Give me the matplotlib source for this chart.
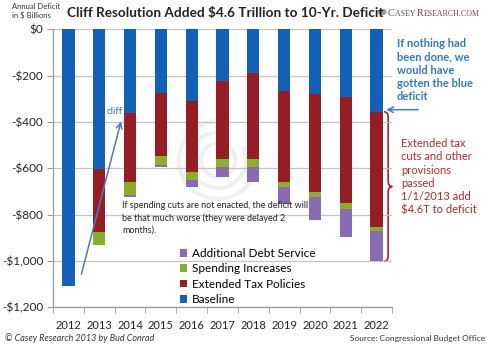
import numpy as np
import matplotlib
matplotlib.use("Agg")
import matplotlib.pyplot as plt
from matplotlib.path import Path
from matplotlib.patches import PathPatch, Circle, Arc
from matplotlib.transforms import IdentityTransform

plt.rcParams['font.family'] = ['Lato', 'DejaVu Sans']

# deficit components, $ billions (shown as negative)
years = ['2012', '2013', '2014', '2015', '2016', '2017', '2018', '2019', '2020', '2021', '2022']
baseline = [1107, 601, 361, 275, 308, 222, 189, 265, 278, 291, 356]
tax_policies = [0, 276, 297, 273, 307, 336, 369, 395, 426, 459, 497]
spending = [0, 52, 58, 36, 36, 37, 37, 21, 20, 24, 19]
debt_service = [0, 0, 8, 11, 30, 42, 66, 75, 101, 121, 130]

yticks = [0, -200, -400, -600, -800, -1000, -1200]
ytick_labels = ['$0', '-$200', '-$400', '-$600', '-$800', '-$1,000', '-$1,200']

c_blue = '#1161b9'
c_red = '#961d24'
c_green = '#86b02a'
c_purple = '#8a6bb3'

W, H = 490, 346
fig = plt.figure(figsize=(W / 100, H / 100), dpi=100)
ax = fig.add_axes([53 / W, 1 - 307.3 / H, (392 - 53) / W, (307.3 - 29.3) / H])


def fx(x):
    return x / W


def fy(y):
    return 1 - y / H


x = np.arange(len(years))
b = -np.array(baseline)
r = -np.array(tax_policies)
g = -np.array(spending)
p = -np.array(debt_service)

bw = 0.4
ax.bar(x, b, bw, color=c_blue, label='Baseline', zorder=3)
ax.bar(x, r, bw, bottom=b, color=c_red, label='Extended Tax Policies', zorder=3)
ax.bar(x, g, bw, bottom=b + r, color=c_green, label='Spending Increases', zorder=3)
ax.bar(x, p, bw, bottom=b + r + g, color=c_purple, label='Additional Debt Service', zorder=3)

ax.set_xlim(-0.5, len(years) - 0.5)
ax.set_ylim(-1200, 0)
ax.set_yticks(yticks)
ax.set_yticklabels(ytick_labels, fontsize=8.5, color='#222222')
ax.set_xticks(x)
ax.set_xticklabels(years, fontsize=8, color='#222222')
ax.set_xticks(np.arange(-0.5, len(years), 1), minor=True)
ax.tick_params(axis='x', which='major', length=0, pad=9)
ax.tick_params(axis='x', which='minor', length=4, color='#999999', direction='out')
ax.tick_params(axis='y', length=4, color='#999999', pad=3)
ax.grid(axis='y', color='#c4c4c4', linewidth=0.9, zorder=0)
for s in ['top', 'right']:
    ax.spines[s].set_visible(False)
for s in ['left', 'bottom']:
    ax.spines[s].set_color('#999999')
    ax.spines[s].set_linewidth(0.9)

# faint logo watermark behind the bars (pixel coordinates)
for rad, t1, t2 in [(39, 75, 395), (28, 85, 390), (17, 95, 400)]:
    ax.add_patch(Arc((218, H - 160), rad * 2, rad * 2, theta1=t1, theta2=t2,
                     transform=IdentityTransform(), color='#f0f0f0', lw=3, zorder=1))

# legend, reversed order
h, l = ax.get_legend_handles_labels()
ax.legend(h[::-1], l[::-1], loc='upper left', bbox_to_anchor=(fx(180), fy(248)),
          bbox_transform=fig.transFigure, frameon=False, fontsize=8.5,
          handlelength=0.6, handleheight=0.6, handletextpad=0.4,
          labelspacing=0.37, borderpad=0, borderaxespad=0)

# title and header
fig.text(fx(67), fy(13), 'Cliff Resolution Added $4.6 Trillion to 10-Yr. Deficit',
         fontsize=9.8, fontweight='bold', color='#222222', va='center', ha='left')
fig.text(fx(12), fy(11), 'Annual Deficit\nin $ Billions', fontsize=5.5,
         color='#333333', va='center', ha='left', linespacing=1.2)

# site logo: small caps built from pieces laid out left to right,
# scaled so the whole word mark is about 92 px wide
renderer = fig.canvas.get_renderer()
pieces = [('C', 8.5, '#555555'), ('ASEY ', 6.5, '#555555'),
          ('R', 8.5, '#8a3b4b'), ('ESEARCH.COM', 6.5, '#8a3b4b')]
total = 0
for piece, size, col in pieces:
    t = fig.text(0, 0, piece, fontsize=size, family='Liberation Serif')
    total += t.get_window_extent(renderer).width
    t.remove()
scale = 92 / total
xpos = 388
for piece, size, col in pieces:
    t = fig.text(fx(xpos), fy(15.5), piece, fontsize=size * scale, family='Liberation Serif',
                 color=col, va='baseline', ha='left')
    xpos += t.get_window_extent(renderer).width
fig.patches.append(Circle((fx(382), fy(12)), 4.5 / W, transform=fig.transFigure,
                          facecolor='#9a9a9a', edgecolor='none'))

# annotations
ax.annotate('', xy=(1.73, -386), xytext=(0.4, -1068),
            arrowprops=dict(arrowstyle='->', color='#4a7bbf', lw=1.1), zorder=5)
ax.text(1.76, -355, 'cliff', fontsize=7, color='#2e7bc4', ha='right', va='center')
fig.text(fx(122), fy(201), 'If spending cuts are not enacted, the deficit will\n'
         'be that much worse (they were delayed 2\nmonths).',
         fontsize=6.5, color='#222222', va='top', ha='left', linespacing=1.4)

fig.text(fx(397), fy(38), 'If nothing had\nbeen done, we\nwould have\ngotten the blue\ndeficit',
         fontsize=8, fontweight='bold', color='#2e7bc4', va='top', ha='left', linespacing=1.25)
ax.annotate('', xy=(10.22, -347), xytext=(11.44, -347),
            arrowprops=dict(arrowstyle='->', color='#4a7bbf', lw=1.1),
            annotation_clip=False)

# curly brace next to the 2022 bar
top = -(baseline[-1])
bot = -(baseline[-1] + tax_policies[-1] + spending[-1] + debt_service[-1])
mid = (top + bot) / 2
x0, w = 10.24, 0.27
verts = [(x0, top), (x0 + w / 2, top), (x0 + w / 2, top - 25),
         (x0 + w / 2, mid + 25),
         (x0 + w / 2, mid), (x0 + w, mid),
         (x0 + w / 2, mid), (x0 + w / 2, mid - 25),
         (x0 + w / 2, bot + 25),
         (x0 + w / 2, bot), (x0, bot)]
codes = [Path.MOVETO, Path.CURVE3, Path.CURVE3, Path.LINETO,
         Path.CURVE3, Path.CURVE3, Path.CURVE3, Path.CURVE3,
         Path.LINETO, Path.CURVE3, Path.CURVE3]
ax.add_patch(PathPatch(Path(verts, codes), facecolor='none', edgecolor='#b2202a',
                       lw=1.2, clip_on=False))
fig.text(fx(401), fy(138), 'Extended tax\ncuts and other\nprovisions\npassed\n1/1/2013 add\n$4.6T to deficit',
         fontsize=8, color='#c0262b', va='top', ha='left', linespacing=1.25)

# footer
fig.text(fx(5), fy(338), '\u00a9 Casey Research 2013 by Bud Conrad', fontsize=6.5,
         style='italic', color='#333333', va='center', ha='left')
fig.text(fx(485), fy(338), 'Source: Congressional Budget Office', fontsize=6,
         color='#333333', va='center', ha='right')

fig.savefig('out.png', dpi=100)
